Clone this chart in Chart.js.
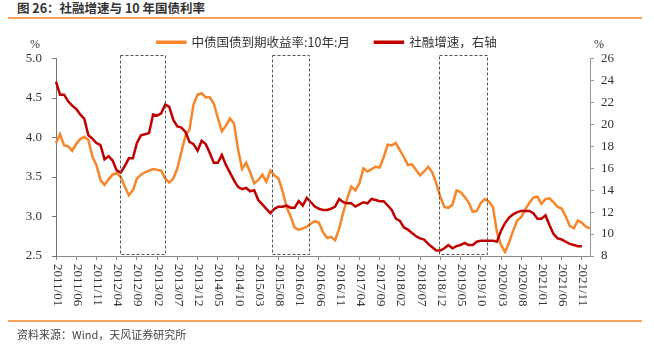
<!DOCTYPE html>
<html>
<head>
<meta charset="utf-8">
<script src="https://cdn.jsdelivr.net/npm/chart.js@4.4.0/dist/chart.umd.min.js"></script>
<style>
    body { margin: 0; width: 654px; height: 346px; background: #fff; position: relative; overflow: hidden; font-family: "Noto Sans CJK SC", sans-serif; }
    #wrap { position: absolute; left: 0; top: 0; width: 654px; height: 346px; }
    #title { position: absolute; left: 17px; top: 0; font-size: 12.5px; font-weight: bold; color: #333; line-height: 16px; }
    .rule { position: absolute; left: 8px; width: 634px; height: 2px; background: #F5A35C; }
    #source { position: absolute; left: 17px; top: 326px; font-size: 11px; color: #444; line-height: 16px; }
    .unit { position: absolute; top: 37px; font: 12px "Liberation Serif", serif; color: #333; }
</style>
</head>
<body>
<div id="title">图 26：社融增速与 10 年国债利率</div>
<div class="rule" style="top:17px"></div>
<div id="wrap"><canvas id="rateChart"></canvas></div>
<div class="unit" style="left:30px">%</div>
<div class="unit" style="left:594px">%</div>
<div class="rule" style="top:320px"></div>
<div id="source">资料来源：Wind，天风证券研究所</div>

<script>
// monthly categories 2011/01 .. 2022/01
let months = [];
for (let y = 2011; y <= 2022; y++) {
    for (let m = 1; m <= 12; m++) {
        if (y === 2022 && m > 1) break;
        months.push(y + '/' + (m < 10 ? '0' + m : m));
    }
}

// 中债国债到期收益率:10年:月 (left axis, %)
let bondYield = [
    3.93, 4.04, 3.90, 3.89, 3.83, 3.92, 3.98, 4.01, 3.97, 3.76, 3.65, 3.46,
    3.40, 3.47, 3.53, 3.55, 3.50, 3.38, 3.27, 3.33, 3.48, 3.53, 3.56, 3.58,
    3.60, 3.59, 3.58, 3.48, 3.43, 3.48, 3.61, 3.82, 4.02, 4.10, 4.42, 4.54,
    4.56, 4.51, 4.51, 4.43, 4.25, 4.08, 4.15, 4.24, 4.18, 3.85, 3.60, 3.68,
    3.56, 3.42, 3.46, 3.53, 3.44, 3.58, 3.52, 3.48, 3.32, 3.12, 3.00, 2.86,
    2.83, 2.85, 2.87, 2.91, 2.94, 2.92, 2.80, 2.73, 2.74, 2.70, 2.85, 3.05,
    3.23, 3.38, 3.33, 3.42, 3.61, 3.57, 3.60, 3.63, 3.62, 3.75, 3.91, 3.90,
    3.93, 3.84, 3.75, 3.65, 3.66, 3.59, 3.52, 3.57, 3.63, 3.56, 3.42, 3.25,
    3.12, 3.11, 3.15, 3.33, 3.31, 3.25, 3.18, 3.06, 3.07, 3.17, 3.22, 3.19,
    3.12, 2.80, 2.64, 2.55, 2.67, 2.82, 2.95, 2.99, 3.09, 3.17, 3.24, 3.25,
    3.16, 3.22, 3.23, 3.18, 3.12, 3.10, 3.00, 2.88, 2.85, 2.95, 2.92, 2.87,
    2.85
];

// 社融增速 (right axis, %)
let tsfGrowth = [
    23.9, 22.7, 22.7, 22.1, 21.7, 21.4, 20.9, 20.5, 19.0, 18.7, 18.3, 18.1,
    16.8, 17.1, 16.7, 15.8, 15.6, 16.2, 16.9, 16.9, 18.3, 19.0, 19.1, 19.2,
    20.9, 20.8, 21.0, 21.8, 21.6, 20.4, 19.8, 19.7, 19.3, 18.4, 18.2, 17.6,
    18.5, 18.2, 17.4, 16.5, 16.5, 17.2, 16.3, 15.6, 14.9, 14.3, 14.1, 14.2,
    13.9, 14.0, 13.1, 12.7, 12.3, 11.9, 12.3, 12.5, 12.5, 12.6, 12.4, 12.4,
    13.0, 12.6, 13.3, 12.9, 12.5, 12.3, 12.2, 12.2, 12.3, 12.5, 13.2, 12.9,
    12.8, 12.8, 12.5, 12.7, 12.9, 12.8, 13.2, 13.1, 13.0, 13.0, 12.6, 12.2,
    11.4, 11.2, 10.6, 10.4, 10.1, 9.8, 9.6, 9.5, 9.1, 8.8, 8.5, 8.5,
    8.7, 9.0, 8.7, 8.9, 9.0, 9.2, 9.0, 9.0, 9.3, 9.4, 9.4, 9.4,
    9.4, 9.3, 10.3, 11.0, 11.5, 11.8, 12.0, 12.1, 12.1, 12.1, 11.9, 11.4,
    11.4, 11.7, 10.8, 10.0, 9.6, 9.5, 9.3, 9.1, 9.0, 8.9, 8.9, null,
    null
];

let leftTicks = { min: 2.5, max: 5.0, step: 0.5 };
let rightTicks = { min: 8, max: 26, step: 2 };

// dashed boxes, in month index / left axis units
let boxFrom = [15.7, 53.4, 94.6];
let boxTo = [26.9, 62.6, 106.6];
let boxTop = 5.05;
let boxBottom = 2.52;

const axisFont = { family: '"Liberation Serif", serif', size: 13 };

const dashedBoxes = {
    id: 'dashedBoxes',
    afterDatasetsDraw(chart) {
        const ctx = chart.ctx;
        const x = chart.scales.x;
        const y = chart.scales.y;
        ctx.save();
        ctx.strokeStyle = '#555';
        ctx.lineWidth = 1;
        ctx.setLineDash([3, 2]);
        boxFrom.forEach(function (from, i) {
            const x1 = Math.round(x.getPixelForValue(from)) + 0.5;
            const x2 = Math.round(x.getPixelForValue(boxTo[i])) + 0.5;
            const y1 = Math.round(y.getPixelForValue(boxTop)) + 0.5;
            const y2 = Math.round(y.getPixelForValue(boxBottom)) + 0.5;
            ctx.strokeRect(x1, y1, x2 - x1, y2 - y1);
        });
        ctx.restore();
    }
};

// x labels read top to bottom, so draw them ourselves
const verticalLabels = {
    id: 'verticalLabels',
    afterDraw(chart) {
        const ctx = chart.ctx;
        const scale = chart.scales.x;
        ctx.save();
        ctx.font = axisFont.size + 'px ' + axisFont.family;
        ctx.fillStyle = '#333';
        ctx.textAlign = 'left';
        ctx.textBaseline = 'middle';
        scale.ticks.forEach(function (tick, i) {
            if (tick.label == null || tick.label === '') return;
            ctx.save();
            ctx.translate(scale.getPixelForTick(i) + 1, scale.top + 8);
            ctx.rotate(Math.PI / 2);
            ctx.fillText(tick.label, 0, 0);
            ctx.restore();
        });
        ctx.restore();
    }
};

let rateCanvas = document.getElementById('rateChart');
let rateChart = new Chart(rateCanvas, {
    type: 'line',
    data: {
        labels: months,
        datasets: [{
            label: '中债国债到期收益率:10年:月',
            data: bondYield,
            borderColor: '#F7862A',
            backgroundColor: '#F7862A',
            borderWidth: 2.5,
            pointRadius: 0,
            yAxisID: 'y',
            order: 2
        }, {
            label: '社融增速，右轴',
            data: tsfGrowth,
            borderColor: '#C00000',
            backgroundColor: '#C00000',
            borderWidth: 2.5,
            pointRadius: 0,
            yAxisID: 'y1',
            order: 1
        }]
    },
    options: {
        responsive: true,
        maintainAspectRatio: false,
        animation: false,
        layout: { padding: { top: 11, left: 0, right: 0, bottom: 0 } },
        plugins: {
            legend: {
                labels: {
                    boxWidth: 28,
                    boxHeight: 1,
                    padding: 25,
                    color: '#333',
                    font: { family: '"Noto Sans CJK SC", sans-serif', size: 12.5 },
                    sort: function (a, b) { return a.datasetIndex - b.datasetIndex; }
                }
            },
            tooltip: { enabled: false }
        },
        scales: {
            x: {
                afterFit: function (scale) { scale.height = 90; },
                grid: { drawOnChartArea: false, tickLength: 4, color: '#888' },
                border: { color: '#888' },
                ticks: {
                    autoSkip: false,
                    minRotation: 90,
                    maxRotation: 90,
                    color: 'rgba(0,0,0,0)',
                    font: axisFont,
                    callback: function (value, index) {
                        return index % 5 === 0 ? this.getLabelForValue(value) : null;
                    }
                }
            },
            y: {
                position: 'left',
                min: leftTicks.min,
                max: leftTicks.max,
                afterFit: function (scale) { scale.width = 56; },
                grid: { drawOnChartArea: false, tickLength: 4, color: '#777' },
                border: { color: '#777' },
                ticks: {
                    stepSize: leftTicks.step,
                    padding: 10,
                    color: '#333',
                    font: axisFont,
                    callback: function (value) { return value.toFixed(1); }
                }
            },
            y1: {
                position: 'right',
                min: rightTicks.min,
                max: rightTicks.max,
                afterFit: function (scale) { scale.width = 64; },
                grid: { drawOnChartArea: false, tickLength: 4, color: '#999' },
                border: { color: '#999' },
                ticks: {
                    stepSize: rightTicks.step,
                    padding: 7,
                    color: '#333',
                    font: axisFont
                }
            }
        }
    },
    plugins: [dashedBoxes, verticalLabels]
});
</script>
</body>
</html>
